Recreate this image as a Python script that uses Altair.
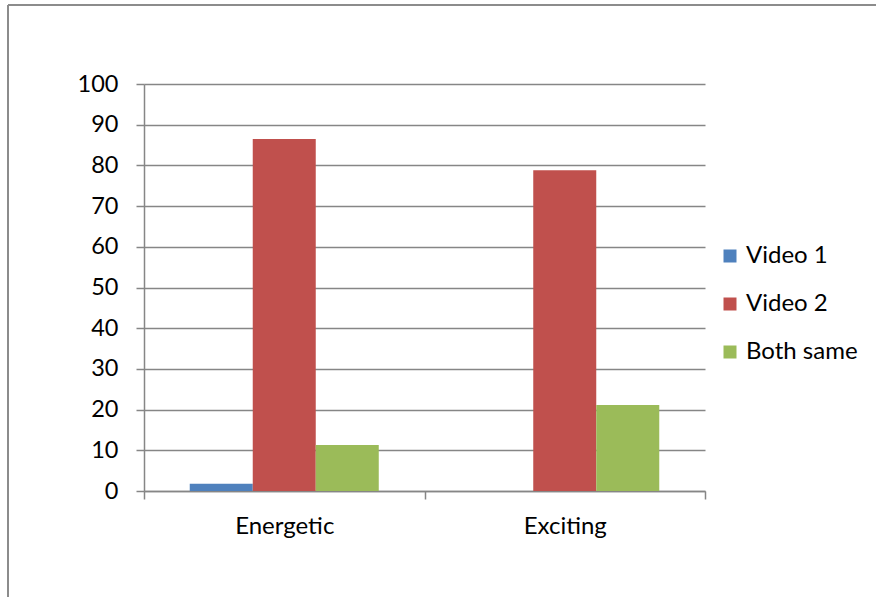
import altair as alt
import pandas as pd

categories = ["Energetic", "Exciting"]
series = ["Video 1", "Video 2", "Both same"]
video1 = [1.8, 0]
video2 = [86.5, 78.8]
both_same = [11.3, 21.1]
colors = ["#4F81BD", "#C0504D", "#9BBB59"]

rows = []
for i, c in enumerate(categories):
    for s, vals in zip(series, [video1, video2, both_same]):
        rows.append({"category": c, "series": s, "value": vals[i]})
df = pd.DataFrame(rows)

FONT = "Lato"
GRID = "#868686"

bars = alt.Chart(df).mark_bar().encode(
    x=alt.X("category:N", sort=categories, title=None,
            scale=alt.Scale(paddingInner=0, paddingOuter=0),
            axis=alt.Axis(labelAngle=0, labelFont=FONT, labelFontSize=24, labelColor="#000",
                          tickBand="extent", tickSize=8, tickColor=GRID, tickWidth=1.5,
                          domainColor=GRID, domainWidth=1.5, labelPadding=15, grid=False)),
    xOffset=alt.XOffset("series:N", sort=series,
                        scale=alt.Scale(paddingInner=0, paddingOuter=0.726)),
    y=alt.Y("value:Q", title=None,
            scale=alt.Scale(domain=[0, 100], nice=False),
            axis=alt.Axis(values=list(range(0, 101, 10)), labelFont=FONT, labelFontSize=23.5,
                          labelColor="#000", tickSize=8, tickColor=GRID, tickWidth=1.5,
                          domainColor=GRID, domainWidth=1.5, gridColor=GRID, gridWidth=1.5,
                          labelPadding=18)),
    color=alt.Color("series:N", sort=series,
                    scale=alt.Scale(domain=series, range=colors),
                    legend=alt.Legend(title=None, orient="none", legendX=574, legendY=160,
                                      symbolType="square", symbolSize=169, symbolStrokeWidth=0,
                                      labelFont=FONT, labelFontSize=24, labelColor="#000",
                                      rowPadding=24, labelOffset=4)),
)

border_left = alt.Chart(pd.DataFrame({"k": [0]})).mark_rule(color="#8c8c8c", strokeWidth=2).encode(
    x=alt.value(-136), y=alt.value(-79), y2=alt.value(520))
border_top = alt.Chart(pd.DataFrame({"k": [0]})).mark_rule(color="#8c8c8c", strokeWidth=2).encode(
    x=alt.value(-136), x2=alt.value(740), y=alt.value(-79))

chart = alt.layer(bars, border_left, border_top).properties(
    width=561, height=407,
    autosize=alt.AutoSizeParams(type="none"),
    padding={"left": 144, "top": 84, "right": 171, "bottom": 106},
    background="white",
).configure_view(stroke=None)

chart.save("out.html", embed_options={"renderer": "svg", "actions": False})
